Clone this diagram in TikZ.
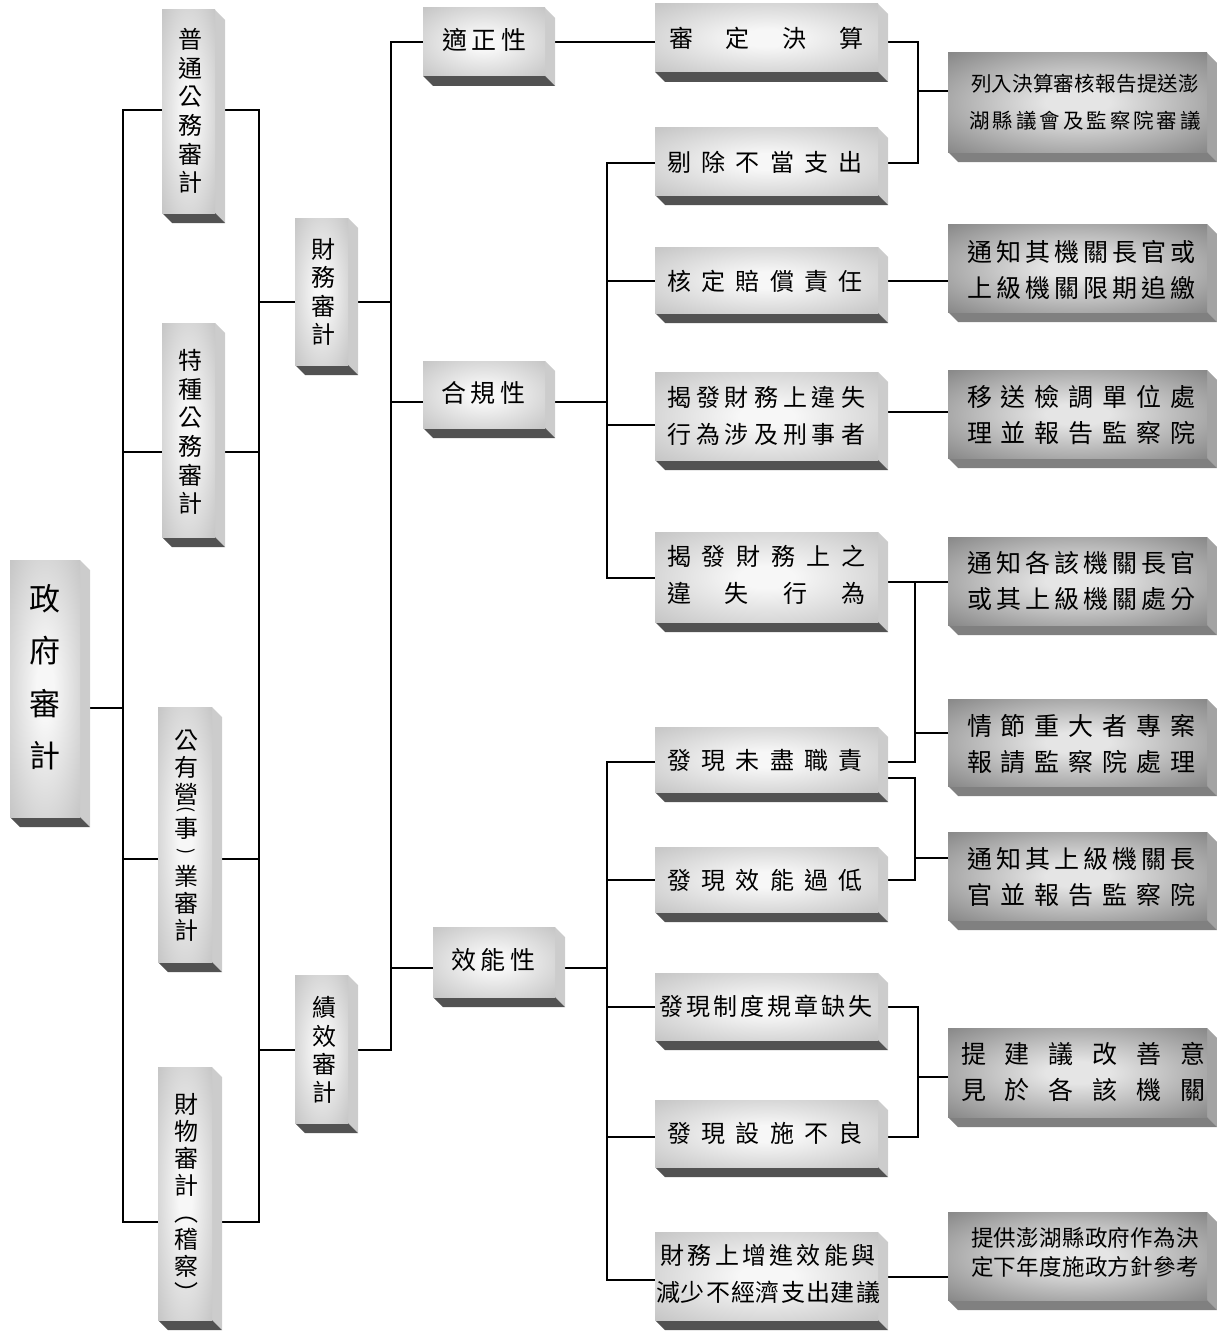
\documentclass[tikz,border=0pt]{standalone}
\usepackage{fontspec}
\setmainfont{Noto Sans CJK TC}
\usetikzlibrary{calc}
\definecolor{lcin}{gray}{0.97}
\definecolor{lcout}{gray}{0.73}
\definecolor{lcside}{gray}{0.80}
\definecolor{lcbot}{gray}{0.32}
\definecolor{dcin}{gray}{0.90}
\definecolor{dcout}{gray}{0.45}
\definecolor{dcside}{gray}{0.64}
\definecolor{dcbot}{gray}{0.50}
\pgfdeclareradialshading{lglow}{\pgfpointorigin}{color(0bp)=(lcin); color(6bp)=(lcin); color(42bp)=(lcout); color(72bp)=(lcout)}
\pgfdeclareradialshading{dglow}{\pgfpointorigin}{color(0bp)=(dcin); color(6bp)=(dcin); color(42bp)=(dcout); color(72bp)=(dcout)}
\pgfdeclarelayer{bg}
\pgfsetlayers{bg,main}

\ExplSyntaxOn
\seq_new:N \l_my_chars_seq
\NewDocumentCommand\spr{mm}{
  \seq_clear:N \l_my_chars_seq
  \tl_map_inline:nn {#2} { \seq_put_right:Nn \l_my_chars_seq {##1} }
  \makebox[#1pt][s]{ \seq_use:Nn \l_my_chars_seq { \hfill } }
}
\ExplSyntaxOff

\newcommand\fR{\fontsize{31}{52.5}\selectfont}
\newcommand\fV{\fontsize{24}{28.6}\selectfont}
\newcommand\fVb{\fontsize{24}{27}\selectfont}
\newcommand\fP{\fontsize{18}{27}\selectfont}
\newcommand\vlp{{\fP\rotatebox[origin=c]{-90}{(}}}
\newcommand\vrp{{\fP\rotatebox[origin=c]{-90}{)}}}
\newcommand\fT{\fontsize{24}{28.3}\selectfont}
\newcommand\fC{\fontsize{25}{30}\selectfont}
\newcommand\fA{\fontsize{24}{37.5}\selectfont}
\newcommand\fD{\fontsize{25}{35.5}\selectfont}
\newcommand\fDs{\fontsize{20.5}{37}\selectfont}
\newcommand\fDt{\fontsize{22.5}{29}\selectfont}

% #1 style (l/d), #2 name, #3 x0, #4 y0, #5 x1, #6 y1, #7 font, #8 text centre, #9 text
\newcommand\tdbox[9]{%
  \fill[#1side] (#5,#4) -- ++(10,10) -- (#5+10,#6+10) -- (#5,#6) -- cycle;
  \fill[#1bot] (#3,#6) -- (#5,#6) -- ++(10,10) -- (#3+10,#6+10) -- cycle;
  \node[#1face, minimum width=#5-#3, minimum height=#6-#4, anchor=north west] (#2) at (#3,#4) {};
  \node[txt, font=#7] (#2t) at (#8) {#9};
}

\begin{document}
\begin{tikzpicture}[x=1pt,y=-1pt,
  conn/.style={line width=1.5pt, line cap=rect, black},
  lside/.style={fill=lcside}, lbot/.style={fill=lcbot},
  dside/.style={fill=dcside}, dbot/.style={fill=dcbot},
  lface/.style={shade, shading=lglow, inner sep=0pt, outer sep=0pt},
  dface/.style={shade, shading=dglow, inner sep=0pt, outer sep=0pt},
  txt/.style={inner sep=0pt, align=center, text=black}]
\useasboundingbox (0,0) rectangle (1217,1335);

% column 1
\tdbox{l}{root}{10}{560}{80}{817}{\fR}{45,677}{政\\府\\審\\計}
% column 2
\tdbox{l}{c2a}{162}{10}{215}{213}{\fV}{190,111}{普\\通\\公\\務\\審\\計}
\tdbox{l}{c2b}{162}{323}{215}{537}{\fV}{190,432}{特\\種\\公\\務\\審\\計}
\tdbox{l}{c2c}{158}{707}{212}{962}{\fVb}{186,836}{公\\有\\營\\[-16pt]\vlp\\[-4pt]事\\[-8pt]\vrp\\[2pt]業\\審\\計}
\tdbox{l}{c2d}{158}{1067}{212}{1320}{\fVb}{186,1198}{財\\物\\審\\計\\︵\\稽\\察\\︶}
% column 3
\tdbox{l}{c3a}{295}{218}{348}{365}{\fT}{323,292}{財\\務\\審\\計}
\tdbox{l}{c3b}{295}{975}{348}{1123}{\fT}{324,1050}{績\\效\\審\\計}
% column 4
\tdbox{l}{c4a}{423}{8}{545}{76}{\fC}{484,40}{\spr{84}{適正性}}
\tdbox{l}{c4b}{423}{361}{545}{428}{\fC}{483,393}{\spr{84}{合規性}}
\tdbox{l}{c4c}{433}{927}{555}{997}{\fC}{493,960}{\spr{84}{效能性}}
% column 5
\tdbox{l}{c5a}{655}{4}{878}{72}{\fA}{766,38}{\spr{194}{審定決算}}
\tdbox{l}{c5b}{655}{128}{878}{195}{\fA}{765,162}{\spr{196}{剔除不當支出}}
\tdbox{l}{c5c}{655}{247}{878}{313}{\fA}{765,281}{\spr{196}{核定賠償責任}}
\tdbox{l}{c5d}{655}{372}{878}{460}{\fA}{766,416}{\spr{198}{揭發財務上違失}\\\spr{198}{行為涉及刑事者}}
\tdbox{l}{c5e}{655}{532}{878}{622}{\fA}{766,575}{\spr{198}{揭發財務上之}\\\spr{198}{違失行為}}
\tdbox{l}{c5f}{655}{727}{878}{792}{\fA}{765,760}{\spr{196}{發現未盡職責}}
\tdbox{l}{c5g}{655}{847}{878}{912}{\fA}{765,880}{\spr{196}{發現效能過低}}
\tdbox{l}{c5h}{655}{973}{878}{1040}{\fA}{766,1006}{\spr{213}{發現制度規章缺失}}
\tdbox{l}{c5i}{655}{1100}{878}{1167}{\fA}{765,1133}{\spr{196}{發現設施不良}}
\tdbox{l}{c5j}{655}{1232}{878}{1320}{\fA}{768,1274}{\spr{215}{財務上增進效能與}\\\spr{224}{減少不經濟支出建議}}
% column 6 (dark)
\tdbox{d}{d1}{948}{53}{1207}{152}{\fDs}{1085,102}{\spr{228}{列入決算審核報告提送澎}\\\spr{232}{湖縣議會及監察院審議}}
\tdbox{d}{d2}{948}{224}{1207}{312}{\fD}{1081,270}{\spr{228}{通知其機關長官或}\\\spr{228}{上級機關限期追繳}}
\tdbox{d}{d3}{948}{370}{1207}{458}{\fD}{1081,415}{\spr{228}{移送檢調單位處}\\\spr{228}{理並報告監察院}}
\tdbox{d}{d4}{948}{537}{1207}{625}{\fD}{1081,581}{\spr{228}{通知各該機關長官}\\\spr{228}{或其上級機關處分}}
\tdbox{d}{d5}{948}{699}{1207}{786}{\fD}{1081,744}{\spr{228}{情節重大者專案}\\\spr{228}{報請監察院處理}}
\tdbox{d}{d6}{948}{832}{1207}{920}{\fD}{1081,877}{\spr{228}{通知其上級機關長}\\\spr{228}{官並報告監察院}}
\tdbox{d}{d7}{948}{1028}{1207}{1117}{\fD}{1083,1072}{\spr{244}{提建議改善意}\\\spr{244}{見於各該機關}}
\tdbox{d}{d8}{948}{1212}{1207}{1300}{\fDt}{1085,1252}{\spr{228}{提供澎湖縣政府作為決}\\\spr{228}{定下年度施政方針參考}}

\begin{pgfonlayer}{bg}
% level 1 spine
\coordinate (A1) at (123,110); \coordinate (A2) at (123,1222);
\draw[conn] (root.east |- 0,708) -- (A1 |- 0,708);
\draw[conn] (A1) -- (A2);
\draw[conn] (A1) -- (c2a.west |- A1);
\draw[conn] (A1 |- 0,452) -- (c2b.west |- 0,452);
\draw[conn] (A1 |- 0,859) -- (c2c.west |- 0,859);
\draw[conn] (A2) -- (c2d.west |- A2);
% level 2 spine
\coordinate (B1) at (259,110); \coordinate (B2) at (259,1222);
\draw[conn] (c2a.east |- B1) -- (B1);
\draw[conn] (c2b.east |- 0,452) -- (B1 |- 0,452);
\draw[conn] (c2c.east |- 0,859) -- (B1 |- 0,859);
\draw[conn] (c2d.east |- B2) -- (B2);
\draw[conn] (B1) -- (B2);
\draw[conn] (B1 |- 0,302) -- (c3a.west |- 0,302);
\draw[conn] (B1 |- 0,1050) -- (c3b.west |- 0,1050);
% level 3 spine
\coordinate (C1) at (391,42); \coordinate (C2) at (391,1050);
\draw[conn] (c3a.east |- 0,302) -- (C1 |- 0,302);
\draw[conn] (c3b.east |- C2) -- (C2);
\draw[conn] (C1) -- (C2);
\draw[conn] (C1) -- (c4a.west |- C1);
\draw[conn] (C1 |- 0,402) -- (c4b.west |- 0,402);
\draw[conn] (C1 |- 0,968) -- (c4c.west |- 0,968);
% level 4
\draw[conn] (c4a.east |- 0,42) -- (c5a.west |- 0,42);
\coordinate (D1) at (607,163); \coordinate (D2) at (607,578);
\draw[conn] (c4b.east |- 0,402) -- (D1 |- 0,402);
\draw[conn] (D1) -- (D2);
\draw[conn] (D1) -- (c5b.west |- D1);
\draw[conn] (D1 |- 0,281) -- (c5c.west |- 0,281);
\draw[conn] (D1 |- 0,425) -- (c5d.west |- 0,425);
\draw[conn] (D2) -- (c5e.west |- D2);
\coordinate (D3) at (607,762); \coordinate (D4) at (607,1280);
\draw[conn] (c4c.east |- 0,968) -- (D3 |- 0,968);
\draw[conn] (D3) -- (D4);
\draw[conn] (D3) -- (c5f.west |- D3);
\draw[conn] (D3 |- 0,880) -- (c5g.west |- 0,880);
\draw[conn] (D3 |- 0,1007) -- (c5h.west |- 0,1007);
\draw[conn] (D3 |- 0,1137) -- (c5i.west |- 0,1137);
\draw[conn] (D4) -- (c5j.west |- D4);
% right side
\coordinate (E1) at (918,42); \coordinate (E2) at (918,163);
\draw[conn] (c5a.east |- E1) -- (E1) -- (E2) -- (c5b.east |- E2);
\draw[conn] (E1 |- 0,91) -- (d1.west |- 0,91);
\draw[conn] (c5c.east |- 0,281) -- (d2.west |- 0,281);
\draw[conn] (c5d.east |- 0,412) -- (d3.west |- 0,412);
\coordinate (F1) at (915,582); \coordinate (F2) at (915,762);
\draw[conn] (c5e.east |- F1) -- (d4.west |- F1);
\draw[conn] (F1) -- (F2) -- (c5f.east |- F2);
\draw[conn] (F1 |- 0,733) -- (d5.west |- 0,733);
\coordinate (G1) at (915,778); \coordinate (G2) at (915,880);
\draw[conn] (c5f.east |- G1) -- (G1) -- (G2) -- (c5g.east |- G2);
\draw[conn] (G1 |- 0,858) -- (d6.west |- 0,858);
\coordinate (H1) at (918,1007); \coordinate (H2) at (918,1137);
\draw[conn] (c5h.east |- H1) -- (H1) -- (H2) -- (c5i.east |- H2);
\draw[conn] (H1 |- 0,1077) -- (d7.west |- 0,1077);
\draw[conn] (c5j.east |- 0,1277) -- (d8.west |- 0,1277);
\end{pgfonlayer}
\end{tikzpicture}
\end{document}
